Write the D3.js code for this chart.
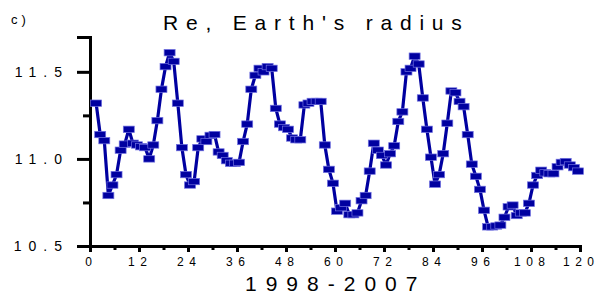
<!DOCTYPE html>
<html>
<head>
<meta charset="utf-8">
<script src="https://cdn.jsdelivr.net/npm/d3@7"></script>
<style>
  body { margin: 0; background: #fff; }
  svg { font-family: "Liberation Sans", Arial, sans-serif; }
</style>
</head>
<body>
<div id="chart"></div>
<script>
// monthly Earth radius values Re, 1998-2007
var radius = [
  11.32, 11.14, 11.105, 10.79, 10.85, 10.91, 11.05, 11.085, 11.17, 11.09,
  11.08, 11.07, 11.065, 11.00, 11.08, 11.22, 11.40, 11.53, 11.61, 11.56,
  11.32, 11.065, 10.91, 10.85, 10.87, 11.065, 11.115, 11.10, 11.135, 11.14,
  11.04, 11.02, 10.99, 10.975, 10.975, 10.98, 11.10, 11.20, 11.40, 11.48,
  11.52, 11.50, 11.53, 11.52, 11.29, 11.20, 11.18, 11.17, 11.12, 11.11,
  11.11, 11.31, 11.32, 11.33, 11.33, 11.33, 11.08, 10.94, 10.86, 10.70,
  10.72, 10.745, 10.68, 10.68, 10.69, 10.76, 10.79, 10.93, 11.09, 11.05,
  11.02, 10.965, 11.03, 11.075, 11.215, 11.27, 11.50, 11.52, 11.59, 11.545,
  11.35, 11.17, 11.01, 10.855, 10.91, 11.03, 11.205, 11.39, 11.38, 11.33,
  11.30, 11.14, 10.97, 10.90, 10.825, 10.705, 10.61, 10.61, 10.615, 10.62,
  10.665, 10.725, 10.735, 10.675, 10.69, 10.69, 10.745, 10.85, 10.905, 10.935,
  10.92, 10.915, 10.915, 10.955, 10.98, 10.985, 10.965, 10.95, 10.93
];
var months = radius.map(function(v, i) { return i + 1; });

var xTicks = [0, 12, 24, 36, 48, 60, 72, 84, 96, 108, 120];
var xMinor = [6, 18, 30, 42, 54, 66, 78, 90, 102, 114];
var yTicks = [10.5, 11.0, 11.5];
var yMinor = [10.75, 11.25];

var panelLabel = "c)";
var title = "Re, Earth's radius";
var xTitle = "1998-2007";

var width = 596, height = 296;
var blue = "#0000a0";

var svg = d3.select("#chart").append("svg")
  .attr("width", width)
  .attr("height", height);

var x = d3.scaleLinear().domain([0, 120]).range([90, 580]);
var y = d3.scaleLinear().domain([10.5, 11.7]).range([246, 37]);

// spread letters of a label, but no spacing after the last one
function spaced(sel, ls) {
  sel.each(function() {
    var t = d3.select(this), s = t.text();
    t.text(null);
    t.append("tspan").style("letter-spacing", ls + "px").text(s.slice(0, -1));
    t.append("tspan").text(s.slice(-1));
  });
}

// axes
var yAxis = svg.append("g")
  .attr("transform", "translate(" + x(0) + ",0)")
  .call(d3.axisLeft(y).tickValues(yTicks).tickSize(13).tickPadding(15)
    .tickFormat(d3.format(".1f")));
svg.append("g")
  .attr("transform", "translate(" + x(0) + ",0)")
  .call(d3.axisLeft(y).tickValues(yMinor).tickSize(7).tickFormat(""))
  .select(".domain").remove();

var xAxis = svg.append("g")
  .attr("transform", "translate(0," + y(10.5) + ")")
  .call(d3.axisBottom(x).tickValues(xTicks).tickSize(6).tickPadding(5));
svg.append("g")
  .attr("transform", "translate(0," + y(10.5) + ")")
  .call(d3.axisBottom(x).tickValues(xMinor).tickSize(4).tickFormat(""))
  .select(".domain").remove();

svg.selectAll(".domain").attr("stroke", "#000").attr("stroke-width", 3);
svg.selectAll(".tick line").attr("stroke", "#000").attr("stroke-width", 3);

yAxis.selectAll("text")
  .style("font-size", "14px")
  .attr("fill", "#000")
  .call(spaced, 7);
xAxis.selectAll("text")
  .style("font-size", "12px")
  .attr("fill", "#000")
  .attr("dx", -2)
  .call(spaced, 5.5);

// series line + square markers
var line = d3.line()
  .x(function(d, i) { return x(months[i] + 0.5); })
  .y(function(d) { return y(d); });

svg.append("path")
  .datum(radius)
  .attr("d", line)
  .attr("fill", "none")
  .attr("stroke", blue)
  .attr("stroke-width", 3.2)
  .attr("stroke-linejoin", "round");

svg.selectAll(".pt")
  .data(radius)
  .enter().append("rect")
  .attr("class", "pt")
  .attr("x", function(d, i) { return x(months[i] + 0.5) - 5.5; })
  .attr("y", function(d) { return y(d) - 3.2; })
  .attr("width", 11)
  .attr("height", 6.4)
  .attr("fill", blue)
  .attr("stroke", "#7070e0")
  .attr("stroke-width", 0.7);

// texts
svg.append("text")
  .attr("x", 11).attr("y", 24)
  .style("font-size", "13px")
  .style("letter-spacing", "4px")
  .text(panelLabel);

svg.append("text")
  .attr("x", 163).attr("y", 30)
  .style("font-size", "21px")
  .style("letter-spacing", "7.8px")
  .text(title);

svg.append("text")
  .attr("x", 245).attr("y", 291)
  .style("font-size", "21px")
  .style("letter-spacing", "9px")
  .text(xTitle);
</script>
</body>
</html>
